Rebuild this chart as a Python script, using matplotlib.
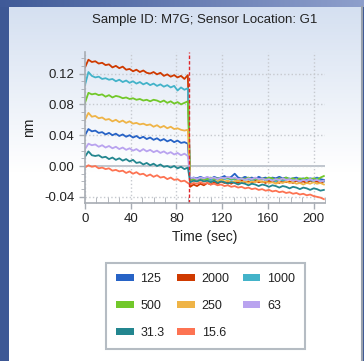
import numpy as np
import matplotlib.pyplot as plt
from matplotlib.patches import Patch
from matplotlib.colors import LinearSegmentedColormap
from matplotlib.ticker import MultipleLocator

plt.rcParams['font.family'] = ['Liberation Sans', 'DejaVu Sans']

# --- DATA (nm) ---
# time: association 0-90 s (step 3), dissociation 92-209 s (step 3)
time_s = list(range(0, 91, 3)) + list(range(92, 210, 3))

conc_labels = ['125', '2000', '1000', '500', '250', '63', '31.3', '15.6']
colors = ['#2763c6', '#cf3a00', '#43b3c9', '#72c82a', '#efb447', '#b9a3ef', '#23868f', '#fd7352']

nm_125 = [0.040, 0.048, 0.045, 0.046, 0.043, 0.044, 0.041, 0.043, 0.040, 0.042, 0.039,
          0.041, 0.038, 0.040, 0.037, 0.039, 0.036, 0.038, 0.035, 0.037, 0.034, 0.036,
          0.033, 0.035, 0.032, 0.034, 0.031, 0.033, 0.030, 0.031, 0.029,
          -0.017, -0.015, -0.016, -0.014, -0.016, -0.015, -0.017, -0.014, -0.016, -0.015,
          -0.013, -0.016, -0.014, -0.010, -0.015, -0.016, -0.014, -0.016, -0.015, -0.017,
          -0.014, -0.016, -0.015, -0.017, -0.015, -0.016, -0.014, -0.016, -0.015, -0.017,
          -0.016, -0.015, -0.017, -0.016, -0.018, -0.016, -0.017, -0.015, -0.017, -0.018]
nm_2000 = [0.128, 0.138, 0.135, 0.136, 0.133, 0.134, 0.131, 0.132, 0.128, 0.130, 0.127,
           0.129, 0.125, 0.126, 0.123, 0.125, 0.122, 0.124, 0.121, 0.120, 0.122, 0.119,
           0.121, 0.117, 0.119, 0.116, 0.118, 0.115, 0.117, 0.113, 0.118,
           -0.027, -0.024, -0.026, -0.023, -0.025, -0.022, -0.024, -0.021, -0.023, -0.020,
           -0.022, -0.021, -0.023, -0.020, -0.022, -0.019, -0.021, -0.020, -0.022, -0.019,
           -0.021, -0.020, -0.022, -0.019, -0.021, -0.020, -0.022, -0.019, -0.021, -0.020,
           -0.022, -0.019, -0.021, -0.020, -0.022, -0.019, -0.021, -0.020, -0.022, -0.020]
nm_1000 = [0.105, 0.122, 0.117, 0.115, 0.116, 0.113, 0.114, 0.112, 0.113, 0.110, 0.112,
           0.109, 0.111, 0.108, 0.110, 0.107, 0.109, 0.106, 0.108, 0.105, 0.107, 0.104,
           0.106, 0.103, 0.105, 0.102, 0.104, 0.098, 0.102, 0.099, 0.101,
           -0.020, -0.017, -0.019, -0.016, -0.018, -0.017, -0.019, -0.016, -0.018, -0.015,
           -0.017, -0.016, -0.018, -0.017, -0.019, -0.016, -0.018, -0.017, -0.019, -0.017,
           -0.018, -0.016, -0.019, -0.017, -0.018, -0.020, -0.017, -0.019, -0.018, -0.016,
           -0.019, -0.018, -0.020, -0.017, -0.019, -0.018, -0.020, -0.016, -0.019, -0.020]
nm_500 = [0.082, 0.095, 0.093, 0.094, 0.092, 0.093, 0.090, 0.092, 0.089, 0.091, 0.090,
          0.088, 0.089, 0.087, 0.088, 0.086, 0.087, 0.085, 0.086, 0.084, 0.086, 0.085,
          0.083, 0.085, 0.082, 0.084, 0.081, 0.083, 0.080, 0.082, 0.084,
          -0.019, -0.017, -0.018, -0.016, -0.018, -0.017, -0.015, -0.017, -0.016, -0.018,
          -0.016, -0.015, -0.017, -0.016, -0.018, -0.016, -0.017, -0.015, -0.017, -0.016,
          -0.018, -0.016, -0.017, -0.015, -0.016, -0.018, -0.016, -0.017, -0.015, -0.017,
          -0.016, -0.018, -0.016, -0.017, -0.015, -0.017, -0.016, -0.018, -0.015, -0.013]
nm_250 = [0.060, 0.069, 0.064, 0.065, 0.062, 0.063, 0.060, 0.061, 0.058, 0.060, 0.057,
          0.059, 0.056, 0.058, 0.055, 0.056, 0.054, 0.055, 0.053, 0.054, 0.051, 0.053,
          0.050, 0.052, 0.049, 0.051, 0.048, 0.049, 0.047, 0.046, 0.047,
          -0.021, -0.019, -0.020, -0.018, -0.020, -0.019, -0.021, -0.019, -0.020, -0.018,
          -0.020, -0.019, -0.021, -0.020, -0.019, -0.021, -0.020, -0.022, -0.020, -0.021,
          -0.019, -0.021, -0.020, -0.022, -0.021, -0.023, -0.021, -0.022, -0.020, -0.022,
          -0.021, -0.023, -0.022, -0.024, -0.022, -0.023, -0.021, -0.023, -0.022, -0.024]
nm_63 = [0.022, 0.029, 0.027, 0.028, 0.025, 0.027, 0.024, 0.026, 0.023, 0.025, 0.022,
         0.024, 0.021, 0.023, 0.020, 0.022, 0.019, 0.022, 0.019, 0.021, 0.018, 0.020,
         0.017, 0.019, 0.016, 0.018, 0.015, 0.017, 0.014, 0.016, 0.013,
         -0.016, -0.015, -0.017, -0.015, -0.016, -0.014, -0.016, -0.015, -0.017, -0.015,
         -0.016, -0.014, -0.016, -0.015, -0.017, -0.016, -0.018, -0.016, -0.017, -0.015,
         -0.017, -0.016, -0.018, -0.017, -0.019, -0.017, -0.018, -0.016, -0.018, -0.017,
         -0.019, -0.018, -0.020, -0.018, -0.019, -0.017, -0.019, -0.018, -0.020, -0.019]
nm_31_3 = [0.012, 0.019, 0.014, 0.013, 0.014, 0.011, 0.012, 0.009, 0.011, 0.008, 0.010,
           0.007, 0.009, 0.006, 0.008, 0.004, 0.005, 0.002, 0.004, 0.001, 0.003, 0.000,
           0.002, -0.001, 0.000, -0.002, 0.000, -0.003, -0.001, -0.004, -0.002,
           -0.021, -0.019, -0.020, -0.018, -0.020, -0.019, -0.021, -0.019, -0.022, -0.020,
           -0.021, -0.023, -0.021, -0.022, -0.024, -0.022, -0.023, -0.025, -0.023, -0.024,
           -0.026, -0.024, -0.025, -0.027, -0.025, -0.026, -0.028, -0.026, -0.027, -0.029,
           -0.027, -0.028, -0.030, -0.028, -0.029, -0.031, -0.029, -0.030, -0.032, -0.031]
nm_15_6 = [-0.002, 0.001, -0.001, 0.000, -0.003, -0.002, -0.004, -0.003, -0.006, -0.005, -0.007,
           -0.006, -0.009, -0.007, -0.010, -0.008, -0.011, -0.010, -0.013, -0.011, -0.014, -0.012,
           -0.015, -0.014, -0.017, -0.015, -0.018, -0.017, -0.020, -0.019, -0.022,
           -0.024, -0.022, -0.023, -0.021, -0.023, -0.022, -0.024, -0.023, -0.025, -0.024,
           -0.026, -0.025, -0.027, -0.026, -0.028, -0.027, -0.029, -0.028, -0.030, -0.029,
           -0.031, -0.030, -0.032, -0.031, -0.033, -0.032, -0.034, -0.033, -0.035, -0.034,
           -0.036, -0.035, -0.037, -0.036, -0.038, -0.037, -0.039, -0.040, -0.041, -0.043]

series = [nm_125, nm_2000, nm_1000, nm_500, nm_250, nm_63, nm_31_3, nm_15_6]
step_time = 91

W, H = 364, 361
fig = plt.figure(figsize=(W / 100, H / 100), dpi=100)
fig.patch.set_facecolor('#3d5895')

# window chrome: top strip gradient and light panel
top = fig.add_axes([0, 1 - 7 / H, 1, 7 / H])
top.imshow(np.linspace(0, 1, 256)[None, :], aspect='auto', extent=[0, 1, 0, 1],
           cmap=LinearSegmentedColormap.from_list('t', ['#3f5a98', '#8e9fcc']))
top.axis('off')

panel = fig.add_axes([9 / W, 0, (362 - 9) / W, (H - 7) / H])
grad = np.concatenate([np.linspace(0, 1, 120), np.ones(136)])[:, None]
panel.imshow(grad, aspect='auto', extent=[0, 1, 0, 1],
             cmap=LinearSegmentedColormap.from_list('p', ['#d5e0f1', '#ffffff']))
panel.set_xticks([])
panel.set_yticks([])
for s in panel.spines.values():
    s.set_visible(False)
panel.spines['right'].set_visible(True)
panel.spines['right'].set_color('#9aa2ad')
panel.spines['right'].set_linewidth(1.5)

ax = fig.add_axes([85 / W, 1 - 203 / H, (325 - 85) / W, (203 - 52) / H])
ax.set_facecolor('none')

for y, c in zip(series, colors):
    ax.plot(time_s, y, color=c, lw=1.3)

ax.axhline(0, color='#b4bcc6', lw=1.2, zorder=0.5)
ax.axvline(step_time, color='#e0252a', ls=(0, (2.5, 1.5)), lw=1.0)

ax.set_xlim(0, 210)
ax.set_ylim(-0.048, 0.148)
ax.set_xticks([0, 40, 80, 120, 160, 200])
ax.set_yticks([-0.04, 0.0, 0.04, 0.08, 0.12])
ax.set_yticklabels(['-0.04', '0.00', '0.04', '0.08', '0.12'])
ax.xaxis.set_minor_locator(MultipleLocator(10))
ax.yaxis.set_minor_locator(MultipleLocator(0.01))
ax.grid(True, which='major', color='#c6c9cf', ls=':', lw=1.0)
ax.tick_params(which='both', colors='#a7acb3', labelcolor='#222222', labelsize=9.5)
ax.tick_params(which='major', length=4, width=1)
ax.tick_params(axis='x', which='minor', direction='in', length=4)
ax.tick_params(axis='y', which='minor', direction='out', length=3)
for side in ['top', 'right']:
    ax.spines[side].set_visible(False)
for side in ['left', 'bottom']:
    ax.spines[side].set_color('#a7acb3')
    ax.spines[side].set_linewidth(1.2)

ax.set_xlabel('Time (sec)', fontsize=10, color='#222222', labelpad=3)
ax.set_ylabel('nm', fontsize=10, color='#222222', labelpad=6)

fig.text(205 / W, 1 - 19.5 / H, 'Sample ID: M7G; Sensor Location: G1',
         ha='center', va='center', fontsize=9.5, color='#222222')

# legend is filled column by column; reorder so it reads row by row
ncol = 3
nrow = 3
order = [r * ncol + c for c in range(ncol) for r in range(nrow) if r * ncol + c < len(conc_labels)]
handles = [Patch(facecolor=colors[i], edgecolor='none', label=conc_labels[i]) for i in order]
leg = fig.legend(handles=handles, ncol=ncol, loc='upper left', mode='expand',
                 bbox_to_anchor=(106 / W, 1 - 346 / H, 199 / W, 83 / H), fontsize=9,
                 frameon=True, fancybox=False, handlelength=1.4, handleheight=0.4,
                 handletextpad=0.55, columnspacing=1.0, labelspacing=1.2,
                 borderpad=0.8, borderaxespad=0)
leg.get_frame().set_edgecolor('#a3abb4')
leg.get_frame().set_linewidth(1.5)
for t in leg.get_texts():
    t.set_color('#222222')

fig.savefig('out.png', dpi=100, facecolor=fig.get_facecolor())
